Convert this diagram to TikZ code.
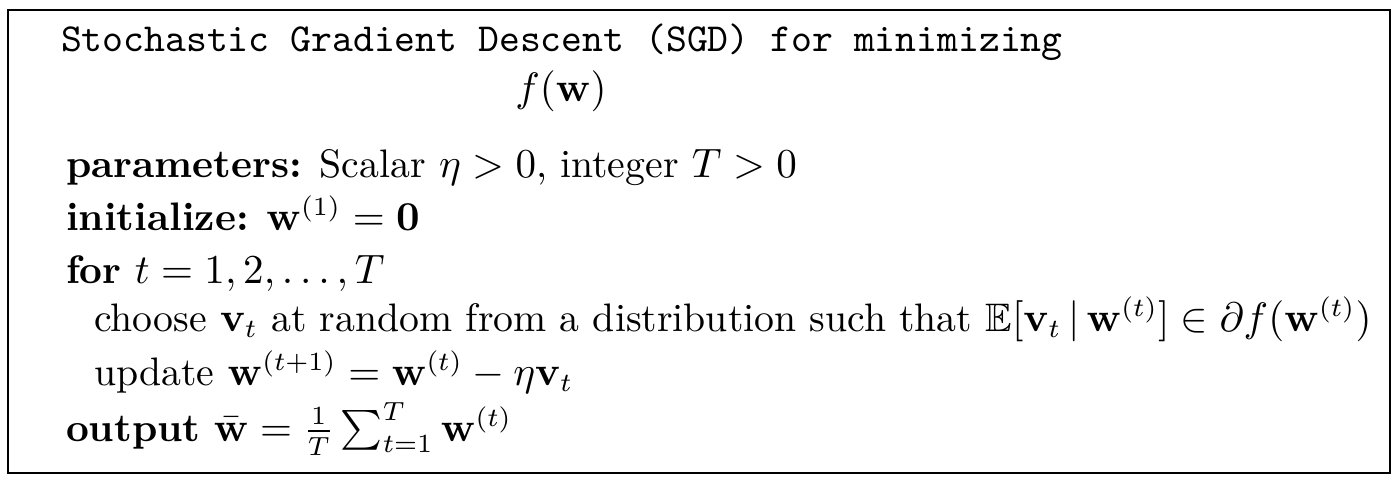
\documentclass[tikz,border=0pt]{standalone}
\usepackage{amsmath,amssymb}
\begin{document}
\begin{tikzpicture}[x=0.26667pt,y=-0.26667pt,
  every node/.style={font=\fontsize{10.6pt}{12.7pt}\selectfont},
  line/.style={anchor=base west,inner sep=0pt,outer sep=0pt},
  frame/.style={draw=black,line width=0.55pt}]
\useasboundingbox (0,0) rectangle (1398,485);
\draw[frame] (8,10) rectangle (1390,473);
\node[line,font=\fontsize{10.6pt}{12.7pt}\selectfont\ttfamily] (title) at (61,51) {Stochastic Gradient Descent (SGD) for minimizing};
\node[anchor=base,inner sep=0pt] (fw) at (561,101) {$f(\mathbf{w})$};
\node[line] (params) at (66,177) {\textbf{parameters:} Scalar $\eta>0$, integer $T>0$};
\node[line] (init) at (66,230) {\textbf{initialize:} $\mathbf{w}^{(1)}=\mathbf{0}$};
\node[line] (for) at (66,283) {\textbf{for} $t=1,2,\ldots,T$};
\node[line] (choose) at (94,331) {choose $\mathbf{v}_t$ at random from a distribution such that $\mathbb{E}[\mathbf{v}_t\,|\,\mathbf{w}^{(t)}]\in\partial f(\mathbf{w}^{(t)})$};
\node[line] (update) at (94,385) {update $\mathbf{w}^{(t+1)}=\mathbf{w}^{(t)}-\eta\mathbf{v}_t$};
\node[line] (output) at (66,441) {\textbf{output} $\bar{\mathbf{w}}=\frac{1}{T}\sum_{t=1}^{T}\mathbf{w}^{(t)}$};
\end{tikzpicture}
\end{document}
